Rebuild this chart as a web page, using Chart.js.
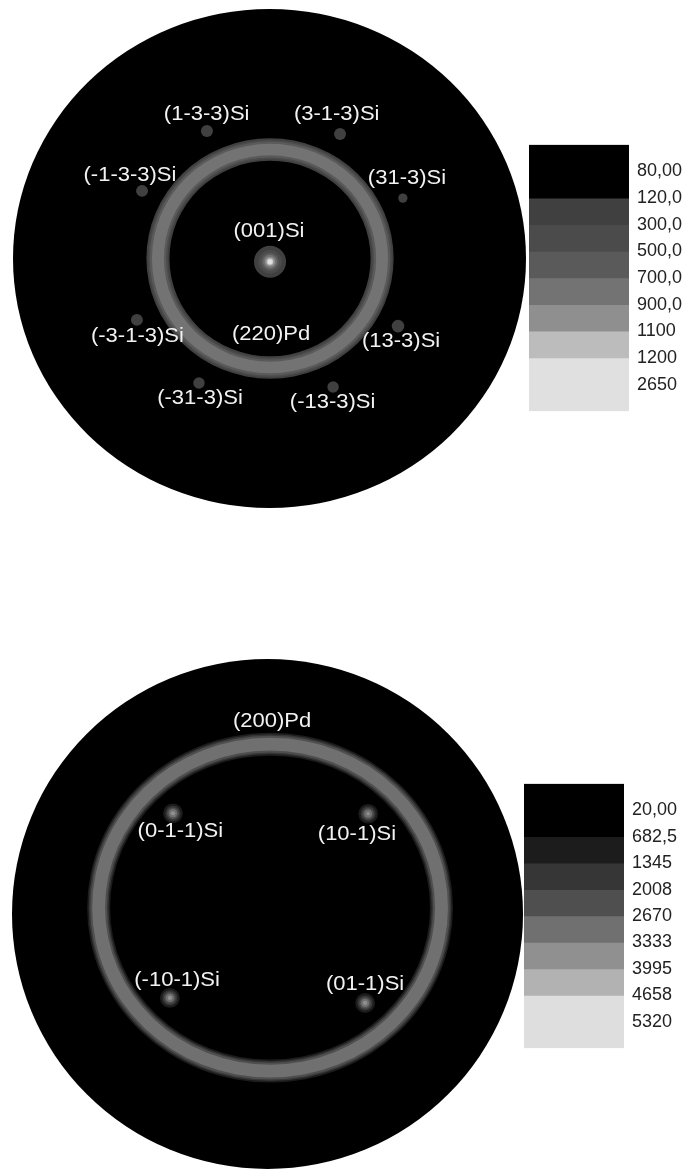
<!DOCTYPE html>
<html>
<head>
<meta charset="utf-8">
<title>Pole figures (220)Pd / (200)Pd</title>
<script src="https://cdn.jsdelivr.net/npm/chart.js@4.4.1/dist/chart.umd.min.js"></script>
<style>
    body { margin: 0; background: #fff; }
    canvas { position: absolute; }
    #topPole { left: 13px; top: 9px; }
    #topBar { left: 529px; top: 126px; }
    #bottomPole { left: 12px; top: 659px; }
    #bottomBar { left: 524px; top: 765px; }
</style>
</head>
<body>
<canvas id="topPole" width="513" height="499"></canvas>
<canvas id="topBar" width="160" height="304"></canvas>
<canvas id="bottomPole" width="511" height="510"></canvas>
<canvas id="bottomBar" width="165" height="302"></canvas>
<script>
// ---- top figure: (220)Pd pole figure on Si(001) ----
const topLevels = [80, 120, 300, 500, 700, 900, 1100, 1200, 2650];
const topLevelLabels = ['80,00', '120,0', '300,0', '500,0', '700,0', '900,0', '1100', '1200', '2650'];
const topColors = ['#000000', '#000000', '#404040', '#4b4b4b', '#5a5a5a', '#737373', '#8f8f8f', '#bcbcbc', '#e0e0e0', '#e0e0e0'];

const topSpotNames = ['(001)Si', '(1-3-3)Si', '(3-1-3)Si', '(-1-3-3)Si', '(31-3)Si', '(-3-1-3)Si', '(13-3)Si', '(-31-3)Si', '(-13-3)Si'];
const topSpotX = [0.002, -0.244, 0.275, -0.497, 0.520, -0.517, 0.501, -0.275, 0.248];
const topSpotY = [-0.013, 0.511, 0.499, 0.271, 0.242, -0.246, -0.271, -0.499, -0.515];
const topSpotPeak = [1400, 260, 255, 255, 230, 255, 265, 255, 255];
const topSpotWidth = [0.0343, 0.025, 0.025, 0.025, 0.02, 0.025, 0.026, 0.024, 0.024];
const topSpotShape = [1.5, 4, 4, 4, 4, 4, 4, 4, 4];

// ---- bottom figure: (200)Pd pole figure ----
const bottomLevels = [20, 682.5, 1345, 2008, 2670, 3333, 3995, 4658, 5320];
const bottomLevelLabels = ['20,00', '682,5', '1345', '2008', '2670', '3333', '3995', '4658', '5320'];
const bottomColors = ['#000000', '#000000', '#1c1c1c', '#363636', '#4f4f4f', '#707070', '#909090', '#b2b2b2', '#dedede', '#dedede'];

const bottomSpotNames = ['(0-1-1)Si', '(10-1)Si', '(-10-1)Si', '(01-1)Si'];
const bottomSpotX = [-0.370, 0.394, -0.382, 0.382];
const bottomSpotY = [0.395, 0.393, -0.329, -0.349];
const bottomSpotPeak = [3600, 3500, 3600, 3600];
const bottomSpotWidth = [0.03, 0.03, 0.03, 0.03];
const bottomSpotShape = [2, 2, 2, 2];

// Pd rings (top, bottom)
const ringNames = ['(220)Pd', '(200)Pd'];
const ringCenterX = [0.002, 0.01];
const ringCenterY = [0.0, 0.025];
const ringRadiusX = [0.437, 0.671];
const ringRadiusY = [0.437, 0.641];
const ringPeak = [800, 3100];
const ringWidth = [0.0383, 0.0406];
const ringShape = [4, 4];

// text placement inside the circles (data units)
const topLabelText = topSpotNames.concat([ringNames[0]]);
const topLabelPos = [[-0.002, 0.114], [-0.245, 0.581], [0.262, 0.581], [-0.544, 0.335], [0.536, 0.323],
    [-0.515, -0.307], [0.513, -0.327], [-0.271, -0.559], [0.246, -0.575], [0.006, -0.299]];
const bottomLabelText = bottomSpotNames.concat([ringNames[1]]);
const bottomLabelPos = [[-0.341, 0.328], [0.350, 0.315], [-0.354, -0.258], [0.382, -0.272], [0.018, 0.758]];

// half width of the region where intensity > level, profile peak*exp(-(d/w)^p)
function halfWidth(peak, level, w, p) {
    if (peak <= level) return null;
    return w * Math.pow(Math.log(peak / level), 1 / p);
}

function pixelRadius(chart, hw) {
    const xs = chart.scales.x;
    return xs.getPixelForValue(hw) - xs.getPixelForValue(0);
}

// disk, ring contours and labels
const poleFigure = {
    id: 'poleFigure',
    beforeDatasetsDraw(chart, args, opts) {
        const ctx = chart.ctx, xs = chart.scales.x, ys = chart.scales.y;
        const cx = xs.getPixelForValue(0), cy = ys.getPixelForValue(0);
        ctx.save();
        ctx.fillStyle = opts.colors[0];
        ctx.beginPath();
        ctx.ellipse(cx, cy, xs.getPixelForValue(1) - cx, cy - ys.getPixelForValue(1), 0, 0, Math.PI * 2);
        ctx.fill();

        const r = opts.ring;
        const rcx = xs.getPixelForValue(ringCenterX[r]), rcy = ys.getPixelForValue(ringCenterY[r]);
        opts.levels.forEach(function(lv, k) {
            if (opts.colors[k + 1] === opts.colors[0]) return;
            const hw = halfWidth(ringPeak[r], lv, ringWidth[r], ringShape[r]);
            if (hw === null) return;
            const oX = xs.getPixelForValue(ringCenterX[r] + ringRadiusX[r] + hw) - rcx;
            const oY = rcy - ys.getPixelForValue(ringCenterY[r] + ringRadiusY[r] + hw);
            const iX = xs.getPixelForValue(ringCenterX[r] + ringRadiusX[r] - hw) - rcx;
            const iY = rcy - ys.getPixelForValue(ringCenterY[r] + ringRadiusY[r] - hw);
            ctx.beginPath();
            ctx.ellipse(rcx, rcy, oX, oY, 0, 0, Math.PI * 2);
            ctx.moveTo(rcx + iX, rcy);
            ctx.ellipse(rcx, rcy, iX, iY, 0, 0, Math.PI * 2);
            ctx.fillStyle = opts.colors[k + 1];
            ctx.fill('evenodd');
        });
        ctx.restore();
    },
    afterDatasetsDraw(chart, args, opts) {
        const ctx = chart.ctx, xs = chart.scales.x, ys = chart.scales.y;
        ctx.save();
        ctx.fillStyle = '#f2f2f2';
        ctx.font = '20px "Liberation Sans", Arial, sans-serif';
        ctx.textAlign = 'center';
        ctx.textBaseline = 'middle';
        opts.labels.forEach(function(txt, i) {
            ctx.save();
            ctx.translate(xs.getPixelForValue(opts.pos[i][0]), ys.getPixelForValue(opts.pos[i][1]));
            ctx.scale(1.1, 1);
            ctx.fillText(txt, 0, 1);
            ctx.restore();
        });
        ctx.restore();
    }
};

// one scatter dataset per contour level, spots drawn as filled points
function spotDatasets(levels, colors, xs, ys, peaks, widths, shapes) {
    const sets = [];
    levels.forEach(function(lv, k) {
        if (colors[k + 1] === colors[0]) return;
        const pts = [];
        xs.forEach(function(x, i) {
            const hw = halfWidth(peaks[i], lv, widths[i], shapes[i]);
            if (hw !== null) pts.push({ x: x, y: ys[i], hw: hw });
        });
        if (!pts.length) return;
        sets.push({
            data: pts,
            backgroundColor: colors[k + 1],
            borderWidth: 0,
            pointRadius: function(c) { return c.raw ? pixelRadius(c.chart, c.raw.hw) : 0; },
            pointHoverRadius: 0,
            order: -k
        });
    });
    return sets;
}

function makePole(id, levels, colors, datasets, ring, labels, pos) {
    return new Chart(document.getElementById(id), {
        type: 'scatter',
        data: { datasets: datasets },
        options: {
            responsive: false,
            animation: false,
            events: [],
            layout: { padding: 0 },
            scales: {
                x: { type: 'linear', min: -1, max: 1, display: false },
                y: { type: 'linear', min: -1, max: 1, display: false }
            },
            plugins: {
                legend: { display: false },
                tooltip: { enabled: false },
                poleFigure: { levels: levels, colors: colors, ring: ring, labels: labels, pos: pos }
            }
        },
        plugins: [poleFigure]
    });
}

// colour scale as a stacked bar with level ticks on the right
function makeColorbar(id, labels, colors, axisWidth) {
    return new Chart(document.getElementById(id), {
        type: 'bar',
        data: {
            labels: [''],
            datasets: colors.map(function(c) {
                return { data: [1], backgroundColor: c, borderWidth: 0, barPercentage: 1, categoryPercentage: 1 };
            })
        },
        options: {
            responsive: false,
            animation: false,
            events: [],
            layout: { padding: { top: 12, bottom: 12, left: 0, right: 0 } },
            scales: {
                x: { stacked: true, display: false },
                y: {
                    stacked: true,
                    position: 'right',
                    reverse: true,
                    min: 0,
                    max: 10,
                    grid: { display: false, drawTicks: false },
                    border: { display: false },
                    ticks: {
                        stepSize: 1,
                        autoSkip: false,
                        padding: 8,
                        color: '#222',
                        font: { family: '"Liberation Sans", Arial, sans-serif', size: 18 },
                        callback: function(v) { return labels[v - 1] || ''; }
                    },
                    afterFit: function(s) { s.width = axisWidth; }
                }
            },
            plugins: { legend: { display: false }, tooltip: { enabled: false } }
        }
    });
}

makePole('topPole', topLevels, topColors,
    spotDatasets(topLevels, topColors, topSpotX, topSpotY, topSpotPeak, topSpotWidth, topSpotShape),
    0, topLabelText, topLabelPos);
makeColorbar('topBar', topLevelLabels, topColors, 60);

makePole('bottomPole', bottomLevels, bottomColors,
    spotDatasets(bottomLevels, bottomColors, bottomSpotX, bottomSpotY, bottomSpotPeak, bottomSpotWidth, bottomSpotShape),
    1, bottomLabelText, bottomLabelPos);
makeColorbar('bottomBar', bottomLevelLabels, bottomColors, 65);
</script>
</body>
</html>
